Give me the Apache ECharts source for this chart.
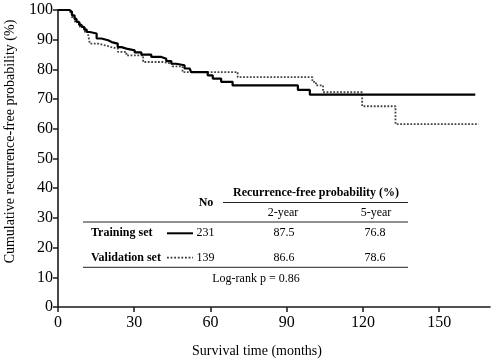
<!DOCTYPE html>
<html>
<head>
<meta charset="utf-8">
<script src="https://cdn.jsdelivr.net/npm/echarts@6/dist/echarts.min.js"></script>
<style>
  html, body { margin: 0; padding: 0; background: #fff; }
  #chart { width: 494px; height: 360px; }
</style>
</head>
<body>
<div id="chart"></div>
<script>
// Kaplan-Meier steps: [month, probability after the step]
var trainTime = [0, 4.5, 5.5, 6.5, 7.3, 8.3, 9.3, 10.3, 11.3, 12.5, 15.2, 17.1, 19.7, 21.1, 23.5, 25.0, 26.9, 30.2, 32.8, 36.7, 40.7, 42.6, 44.6, 46.5, 49.8, 51.8, 52.4, 58.9, 60.9, 64.2, 68.7, 94.4, 99.1, 164.2];
var trainSurv = [100, 99.4, 98.2, 97.0, 96.0, 95.0, 94.3, 93.4, 92.6, 92.1, 90.4, 89.8, 89.2, 88.7, 87.5, 87.0, 86.4, 85.7, 85.0, 84.2, 83.6, 82.8, 81.9, 81.4, 80.3, 79.7, 79.1, 78.0, 76.9, 75.8, 74.6, 73.1, 71.5, 71.5];

var validTime = [0, 4.5, 5.4, 6.7, 8.6, 10.6, 11.9, 12.5, 15.8, 18.5, 21.0, 23.6, 26.9, 33.5, 41.3, 45.0, 49.0, 70.7, 100.1, 101.5, 104.3, 119.7, 132.8, 165.5];
var validSurv = [100, 99.3, 97.6, 96.0, 94.3, 92.6, 91.5, 88.7, 88.1, 87.5, 87.0, 85.9, 84.7, 82.5, 81.9, 81.0, 79.1, 77.4, 75.8, 74.6, 72.3, 67.6, 61.6, 61.6];

var xTicks = [0, 30, 60, 90, 120, 150];

// summary table
var groupNames = ['Training set', 'Validation set'];
var groupN = [231, 139];
var rfs2y = ['87.5', '86.6'];
var rfs5y = ['76.8', '78.6'];
var logRank = 'Log-rank p = 0.86';

function pairs(t, s) {
  var out = [];
  for (var i = 0; i < t.length; i++) out.push([t[i], s[i]]);
  return out;
}

var FONT = '"Liberation Serif", "Times New Roman", serif';

// table graphics
var rowY = [233.3, 257.7];
var tableGraphic = [
  { type: 'text', x: 316, y: 193, style: { text: 'Recurrence-free probability (%)', font: 'bold 12px ' + FONT, fill: '#000', align: 'center', verticalAlign: 'middle' } },
  { type: 'text', x: 206, y: 203, style: { text: 'No', font: 'bold 12px ' + FONT, fill: '#000', align: 'center', verticalAlign: 'middle' } },
  { type: 'line', shape: { x1: 223, y1: 202.5, x2: 408, y2: 202.5 }, style: { stroke: '#222', lineWidth: 1 } },
  { type: 'text', x: 283, y: 212.7, style: { text: '2-year', font: '12px ' + FONT, fill: '#000', align: 'center', verticalAlign: 'middle' } },
  { type: 'text', x: 376, y: 212.7, style: { text: '5-year', font: '12px ' + FONT, fill: '#000', align: 'center', verticalAlign: 'middle' } },
  { type: 'line', shape: { x1: 83, y1: 222, x2: 408, y2: 222 }, style: { stroke: '#222', lineWidth: 1 } },
  { type: 'line', shape: { x1: 83, y1: 267.3, x2: 408, y2: 267.3 }, style: { stroke: '#222', lineWidth: 1 } },
  { type: 'text', x: 256, y: 279.3, style: { text: logRank, font: '12px ' + FONT, fill: '#000', align: 'center', verticalAlign: 'middle' } }
];
for (var r = 0; r < groupNames.length; r++) {
  var y = rowY[r];
  tableGraphic.push(
    { type: 'text', x: 91, y: y, style: { text: groupNames[r], font: 'bold 12px ' + FONT, fill: '#000', align: 'left', verticalAlign: 'middle' } },
    { type: 'line', shape: { x1: 167, y1: y, x2: 193, y2: y },
      style: r === 0 ? { stroke: '#000', lineWidth: 2 } : { stroke: '#333', lineWidth: 1.8, lineDash: [1.8, 1.8] } },
    { type: 'text', x: 196.5, y: y, style: { text: String(groupN[r]), font: '12px ' + FONT, fill: '#000', align: 'left', verticalAlign: 'middle' } },
    { type: 'text', x: 284, y: y, style: { text: rfs2y[r], font: '12px ' + FONT, fill: '#000', align: 'center', verticalAlign: 'middle' } },
    { type: 'text', x: 375, y: y, style: { text: rfs5y[r], font: '12px ' + FONT, fill: '#000', align: 'center', verticalAlign: 'middle' } }
  );
}

var chart = echarts.init(document.getElementById('chart'));
chart.setOption({
  animation: false,
  backgroundColor: '#fff',
  textStyle: { fontFamily: FONT },
  grid: { left: 58, right: 4, top: 10, bottom: 53, outerBoundsMode: 'none' },
  xAxis: {
    type: 'value',
    min: 0,
    max: 170,
    interval: 30,
    name: 'Survival time (months)',
    nameLocation: 'middle',
    nameGap: 37,
    nameTextStyle: { fontFamily: FONT, fontSize: 14, color: '#000', padding: [0, 34, 0, 0] },
    axisLine: { lineStyle: { color: '#1a1a1a', width: 1.6 } },
    axisTick: { show: true, length: 5, lineStyle: { color: '#1a1a1a', width: 1.5 }, customValues: xTicks },
    axisLabel: { fontFamily: FONT, fontSize: 16, color: '#000', margin: 8, customValues: xTicks },
    splitLine: { show: false }
  },
  yAxis: {
    type: 'value',
    min: 0,
    max: 100,
    interval: 10,
    name: 'Cumulative recurrence-free probability (%)',
    nameLocation: 'middle',
    nameGap: 41,
    nameTextStyle: { fontFamily: FONT, fontSize: 14, color: '#000', padding: [0, 0, 0, 34] },
    axisLine: { show: true, lineStyle: { color: '#1a1a1a', width: 1.6 } },
    axisTick: { show: true, length: 5, lineStyle: { color: '#1a1a1a', width: 1.5 } },
    axisLabel: { fontFamily: FONT, fontSize: 16, color: '#000', margin: 5 },
    splitLine: { show: false }
  },
  series: [
    {
      name: 'Validation set',
      type: 'line',
      step: 'end',
      showSymbol: false,
      data: pairs(validTime, validSurv),
      lineStyle: { color: '#444', width: 1.8, type: [1.8, 1.6] },
      z: 2
    },
    {
      name: 'Training set',
      type: 'line',
      step: 'end',
      showSymbol: false,
      data: pairs(trainTime, trainSurv),
      lineStyle: { color: '#000', width: 2.2 },
      z: 3
    }
  ],
  graphic: tableGraphic
});
</script>
</body>
</html>
